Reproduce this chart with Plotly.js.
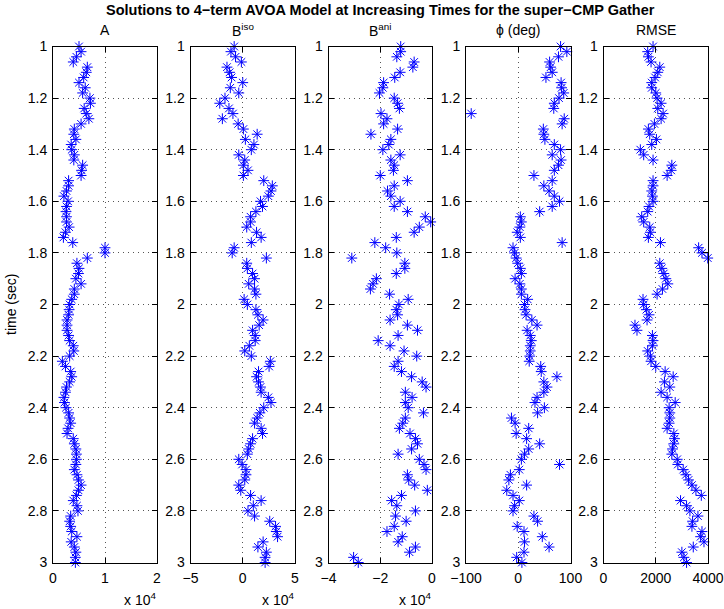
<!DOCTYPE html>
<html>
<head>
<meta charset="utf-8">
<script src="https://cdn.plot.ly/plotly-3.0.1.min.js"></script>
<style>html,body{margin:0;padding:0;background:#fff;}#chart{width:724px;height:609px;}</style>
</head>
<body>
<div id="chart"></div>
<script>
// time samples (sec)
const time = [1.00,1.02,1.04,1.06,1.08,1.10,1.12,1.14,1.16,1.18,
1.20,1.22,1.24,1.26,1.28,1.30,1.32,1.34,1.36,1.38,
1.40,1.42,1.44,1.46,1.48,1.50,1.52,1.54,1.56,1.58,
1.60,1.62,1.64,1.66,1.68,1.70,1.72,1.74,1.76,1.78,
1.80,1.82,1.84,1.86,1.88,1.90,1.92,1.94,1.96,1.98,
2.00,2.02,2.04,2.06,2.08,2.10,2.12,2.14,2.16,2.18,
2.20,2.22,2.24,2.26,2.28,2.30,2.32,2.34,2.36,2.38,
2.40,2.42,2.44,2.46,2.48,2.50,2.52,2.54,2.56,2.58,
2.60,2.62,2.64,2.66,2.68,2.70,2.72,2.74,2.76,2.78,
2.80,2.82,2.84,2.86,2.88,2.90,2.92,2.94,2.96,2.98,
3.00];

// A (x 10^4)
const A = [0.50,0.54,0.45,0.39,0.66,0.64,0.59,0.50,0.62,0.57,
0.71,0.72,0.60,0.64,0.69,0.54,0.41,0.40,0.44,0.35,
0.36,0.41,0.40,0.57,0.55,0.54,0.30,0.30,0.26,0.21,
0.29,0.26,0.25,0.26,0.26,0.31,0.24,0.20,0.38,1.00,
1.00,0.66,0.46,0.50,0.49,0.44,0.54,0.41,0.41,0.36,
0.32,0.31,0.30,0.27,0.27,0.27,0.30,0.32,0.39,0.40,
0.32,0.18,0.24,0.34,0.36,0.32,0.26,0.24,0.21,0.22,
0.25,0.30,0.32,0.34,0.29,0.27,0.39,0.41,0.44,0.45,
0.45,0.44,0.41,0.46,0.49,0.54,0.49,0.45,0.39,0.46,
0.48,0.34,0.32,0.34,0.36,0.46,0.35,0.41,0.44,0.43,
0.43];

// B iso (x 10^4)
const Biso = [-0.82,-1.13,-0.69,-0.13,-1.51,-1.26,-1.07,0.00,-1.19,-0.38,
-1.70,-2.20,-1.32,-0.94,-1.95,-0.44,0.06,1.38,0.25,1.07,
0.82,-0.38,0.19,0.06,0.50,0.06,2.01,2.83,2.70,2.45,
1.70,1.89,1.26,0.75,0.75,0.38,1.32,1.76,0.82,-0.82,
-1.01,2.26,0.38,0.44,0.94,1.13,0.57,1.13,1.26,0.13,
0.44,1.26,1.45,1.95,1.57,0.94,1.19,1.19,0.63,0.19,
0.82,2.64,2.52,1.51,1.32,1.51,1.70,1.76,2.45,2.70,
2.01,1.64,1.38,1.13,1.76,1.89,0.94,0.75,0.57,0.44,
-0.38,-0.06,0.31,0.31,0.19,-0.38,-0.19,0.75,1.76,1.01,
0.50,1.13,2.58,3.14,3.21,3.33,1.95,1.45,2.26,2.14,
2.14];

// B ani (x 10^4)
const Bani = [-1.21,-1.21,-1.36,-0.69,-0.74,-1.23,-1.44,-1.87,-1.90,-2.03,
-1.46,-1.33,-1.26,-1.97,-1.74,-1.87,-1.33,-2.36,-1.59,-1.67,
-1.90,-1.23,-1.59,-1.46,-1.49,-2.00,-0.95,-1.46,-1.72,-1.59,
-1.23,-1.46,-0.95,-0.26,-0.05,-0.49,-0.69,-1.38,-2.21,-1.79,
-1.36,-3.10,-1.05,-1.05,-1.38,-2.15,-2.28,-2.38,-1.64,-0.92,
-1.28,-1.38,-1.33,-1.62,-0.95,-0.56,-1.31,-2.08,-1.62,-1.08,
-0.59,-1.31,-1.46,-1.18,-0.79,-0.38,-0.23,-1.03,-0.77,-1.03,
-0.92,-0.33,-1.03,-1.13,-1.26,-0.85,-0.64,-0.56,-0.79,-1.31,
-0.49,-0.31,-0.23,-0.95,-0.90,-0.67,-0.18,-1.18,-1.56,-1.36,
-0.64,-1.41,-1.00,-1.46,-1.74,-1.15,-1.31,-0.64,-0.87,-3.03,
-2.85];

// phi (deg)
const phi = [81,93,77,60,62,65,53,82,83,87,
78,69,68,-90,88,84,48,49,51,69,
81,65,82,77,69,30,65,49,59,69,
79,65,41,4,6,3,-2,4,84,-10,
-7,-4,-1,4,6,-6,3,6,6,18,
12,13,15,26,36,17,23,25,23,23,
22,21,43,44,74,49,55,49,36,32,
50,37,-13,-6,20,-4,16,41,20,12,
6,79,2,-15,-18,16,-22,-10,2,-7,
-10,30,37,-2,11,46,12,59,11,-3,
7];

// RMSE
const rmse = [1897,1692,1718,1820,2154,2077,1974,1846,1846,2000,
2051,2205,2077,2282,2205,1949,1718,1769,2026,1846,
1410,1538,1897,2615,2590,2436,1897,1897,1846,1872,
1897,1744,1692,1462,1538,1769,1795,1718,2180,3641,
3769,3990,2154,2231,2308,2385,2462,2256,2051,1513,
1538,1641,1744,1667,1205,1282,1872,1897,1872,1692,
1795,1820,2000,2359,2667,2333,2538,2205,2436,2744,
2513,2538,2538,2513,2436,2692,2718,2692,2641,2615,
2821,2846,3051,3154,3256,3385,3538,3744,2949,3179,
3308,3615,3410,3385,3769,3718,3846,3436,3000,3077,
3179];

const panelTitles = ['A','B<sup>iso</sup>','B<sup>ani</sup>','\u03D5 (deg)','RMSE'];
const seriesList = [A, Biso, Bani, phi, rmse];
const xRanges = [[0,2],[-5,5],[-4,0],[-100,100],[0,4000]];
const xTicks = [[0,1,2],[-5,0,5],[-4,-2,0],[-100,0,100],[0,2000,4000]];
const xTickText = [['0','1','2'],['\u22125','0','5'],['\u22124','\u22122','0'],['\u2212100','0','100'],['0','2000','4000']];
const hasExp = [true,true,true,false,false];
const yTicks = [1,1.2,1.4,1.6,1.8,2,2.2,2.4,2.6,2.8,3];

const FIG_W = 724, FIG_H = 609;
const panelPx = [[53,157],[190.5,295],[328.5,432],[466,570.5],[603.5,708]];
const plotTop = 46.5, plotBot = 562.5;
const fontFam = 'Liberation Sans, Arial, Helvetica, sans-serif';
const FS = 14;

const data = [];
const layout = {
  width: FIG_W, height: FIG_H,
  margin: {l:0, r:0, t:0, b:0},
  paper_bgcolor: '#fff', plot_bgcolor: '#fff',
  showlegend: false,
  font: {family: fontFam, size: FS, color: '#000'},
  annotations: []
};

seriesList.forEach((s, i) => {
  const n = i === 0 ? '' : String(i + 1);
  data.push({
    type: 'scatter', mode: 'markers',
    x: s, y: time,
    xaxis: 'x' + n, yaxis: 'y' + n,
    cliponaxis: false,
    marker: {symbol: 'asterisk-open', size: 9, color: '#0000ff', line: {color: '#0000ff', width: 1}},
    hoverinfo: 'skip'
  });
  const dom = [panelPx[i][0] / FIG_W, panelPx[i][1] / FIG_W];
  const common = {
    showline: true, linecolor: '#000', linewidth: 1, mirror: 'ticks',
    ticks: 'inside', ticklen: 5, tickcolor: '#000', tickwidth: 1,
    showgrid: true, gridcolor: '#555', griddash: '1px,4px', gridwidth: 1,
    zeroline: false, tickfont: {family: fontFam, size: FS, color: '#000'}
  };
  layout['xaxis' + n] = Object.assign({}, common, {
    domain: dom, anchor: 'y' + n, range: xRanges[i],
    tickmode: 'array', tickvals: xTicks[i], ticktext: xTickText[i],
    ticklabelstandoff: 3
  });
  layout['yaxis' + n] = Object.assign({}, common, {
    domain: [1 - plotBot / FIG_H, 1 - plotTop / FIG_H], anchor: 'x' + n, range: [3, 1],
    tickmode: 'array', tickvals: yTicks, ticklabelstandoff: 2
  });
  layout.annotations.push({
    xref: 'paper', yref: 'paper', x: (dom[0] + dom[1]) / 2, y: 1 - 30 / FIG_H,
    text: panelTitles[i], showarrow: false, xanchor: 'center', yanchor: 'middle',
    font: {family: fontFam, size: FS, color: '#000'}
  });
  if (hasExp[i]) {
    layout.annotations.push({
      xref: 'paper', yref: 'paper', x: dom[1] + 1 / FIG_W, y: 1 - 599 / FIG_H,
      text: 'x 10<sup>4</sup>', showarrow: false, xanchor: 'right', yanchor: 'middle',
      font: {family: fontFam, size: FS, color: '#000'}
    });
  }
});

layout.annotations.push({
  xref: 'paper', yref: 'paper', x: 380 / FIG_W, y: 1 - 10 / FIG_H,
  text: '<b>Solutions to 4\u2212term AVOA Model at Increasing Times for the super\u2212CMP Gather</b>',
  showarrow: false, xanchor: 'center', yanchor: 'middle',
  font: {family: fontFam, size: 14.5, color: '#000'}
});
layout.annotations.push({
  xref: 'paper', yref: 'paper', x: 11 / FIG_W, y: 1 - 305 / FIG_H,
  text: 'time (sec)', textangle: -90, showarrow: false, xanchor: 'center', yanchor: 'middle',
  font: {family: fontFam, size: FS, color: '#000'}
});

Plotly.newPlot('chart', data, layout, {staticPlot: true, displayModeBar: false});
</script>
</body>
</html>
